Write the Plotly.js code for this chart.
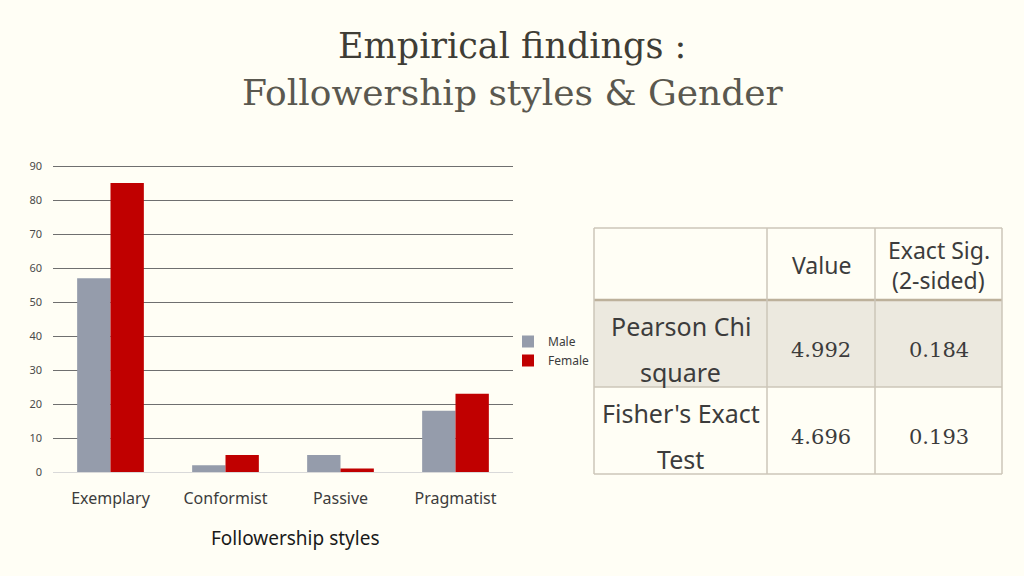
<!DOCTYPE html>
<html>
<head>
<meta charset="utf-8">
<title>Followership styles & Gender</title>
<script src="https://cdn.plot.ly/plotly-3.0.1.min.js" charset="utf-8"></script>
<style>
    * { margin: 0px; padding: 0px; box-sizing: border-box; }
    body { background: #fffef5; }
    #grafik { width: 1024px; height: 576px; }
</style>
</head>
<body>
<div id="grafik"></div>
<script>
    // данные с картинки
    const styles = ['Exemplary', 'Conformist', 'Passive', 'Pragmatist'];
    const male = [57, 2, 5, 18];
    const female = [85, 5, 1, 23];

    const tableHeader = ['', 'Value', 'Exact Sig.<br>(2-sided)'];
    const testNames = ['Pearson Chi<br>square', "Fisher's Exact<br>Test"];
    const testValues = ['4.992', '4.696'];
    const testSig = ['0.184', '0.193'];

    const W = 1024, H = 576;
    const bg = '#fffef5';
    const textGrey = '#3c3c3c';
    const px = x => x / W;          // пиксели -> доли листа
    const py = y => 1 - y / H;

    let traceMale = {
        x: styles, y: male, name: 'Male', type: 'bar',
        marker: { color: '#959cab' }
    };
    let traceFemale = {
        x: styles, y: female, name: 'Female', type: 'bar',
        marker: { color: '#c00000' }
    };

    // таблица: сетка из прямоугольников, текст из аннотаций
    const colEdges = [594, 767, 875, 1002];
    const rowEdges = [228, 300, 387, 474];
    const rowFill = [bg, '#ece9df', bg];
    const lineCol = '#cdc6b8';

    let shapes = [];
    let annotations = [];

    for (let r = 0; r < 3; r++) {
        shapes.push({
            type: 'rect', xref: 'paper', yref: 'paper', layer: 'below',
            x0: px(colEdges[0]), x1: px(colEdges[3]),
            y0: py(rowEdges[r + 1]), y1: py(rowEdges[r]),
            fillcolor: rowFill[r], line: { width: 0 }
        });
    }
    rowEdges.forEach(function (y, i) {
        shapes.push({
            type: 'line', xref: 'paper', yref: 'paper',
            x0: px(colEdges[0]), x1: px(colEdges[3]), y0: py(y), y1: py(y),
            line: { color: i == 1 ? '#bdb19b' : lineCol, width: i == 1 ? 2.5 : 1.5 }
        });
    });
    colEdges.forEach(function (x) {
        shapes.push({
            type: 'line', xref: 'paper', yref: 'paper',
            x0: px(x), x1: px(x), y0: py(rowEdges[0]), y1: py(rowEdges[3]),
            line: { color: lineCol, width: 1.5 }
        });
    });

    function cellText(text, col, row, font, size, gap, shift) {
        let lines = text.split('<br>');
        let xc = (colEdges[col] + colEdges[col + 1]) / 2;
        let yc = (rowEdges[row] + rowEdges[row + 1]) / 2 + shift;
        lines.forEach(function (s, k) {
            let y = yc + (k - (lines.length - 1) / 2) * gap;
            annotations.push({
                text: s, xref: 'paper', yref: 'paper',
                x: px(xc), y: py(y), xanchor: 'center', yanchor: 'middle',
                showarrow: false, borderpad: 0,
                font: { family: font, size: size, color: textGrey }
            });
        });
    }

    tableHeader.forEach(function (t, c) {
        if (t) cellText(t, c, 0, 'Noto Sans', 23, 30, 1);
    });
    testNames.forEach(function (t, r) {
        cellText(t, 0, r + 1, 'Noto Sans', 25, 46, 5);
        cellText(testValues[r], 1, r + 1, 'DejaVu Serif', 21, 0, 6);
        cellText(testSig[r], 2, r + 1, 'DejaVu Serif', 21, 0, 6);
    });

    annotations.push(
        {
            text: 'Empirical findings :', xref: 'paper', yref: 'paper',
            x: 0.5, y: py(46), xanchor: 'center', yanchor: 'middle', showarrow: false,
            font: { family: 'DejaVu Serif', size: 35, color: '#3f3d35' }
        },
        {
            text: 'Followership styles & Gender', xref: 'paper', yref: 'paper',
            x: 0.5, y: py(92), xanchor: 'center', yanchor: 'middle', showarrow: false,
            font: { family: 'DejaVu Serif', size: 36, color: '#5a584f' }
        },
        {
            text: 'Followership styles', xref: 'paper', yref: 'paper',
            x: px(295), y: py(538), xanchor: 'center', yanchor: 'middle', showarrow: false,
            font: { family: 'Noto Sans', size: 19, color: '#1a1a1a' }
        }
    );

    let layout = {
        width: W, height: H,
        margin: { l: 0, r: 0, t: 0, b: 0 },
        paper_bgcolor: bg,
        plot_bgcolor: bg,
        barmode: 'group',
        bargap: 0.42,
        bargroupgap: 0,
        showlegend: true,
        legend: {
            x: px(508), y: py(327), xanchor: 'left', yanchor: 'top',
            itemwidth: 30,
            bgcolor: 'rgba(0,0,0,0)',
            font: { family: 'Noto Sans', size: 12, color: textGrey }
        },
        xaxis: {
            domain: [px(53), px(513)],
            showgrid: false,
            showline: true, linecolor: '#d9d9d9',
            ticks: '', ticklabelstandoff: 12,
            tickfont: { family: 'Noto Sans', size: 16, color: textGrey }
        },
        yaxis: {
            // 90 стоит на 166px, диапазон чуть больше, чтобы верхняя сетка рисовалась
            domain: [py(472), py(162.6)],
            range: [0, 91], tick0: 0, dtick: 10,
            showgrid: true, gridcolor: '#6f6f6f', gridwidth: 1,
            zeroline: false,
            ticks: '', ticklabelstandoff: 10,
            tickfont: { family: 'Noto Sans', size: 11, color: '#4a4a4a' }
        },
        shapes: shapes,
        annotations: annotations
    };

    Plotly.newPlot('grafik', [traceMale, traceFemale], layout, { displayModeBar: false });
</script>
</body>
</html>
